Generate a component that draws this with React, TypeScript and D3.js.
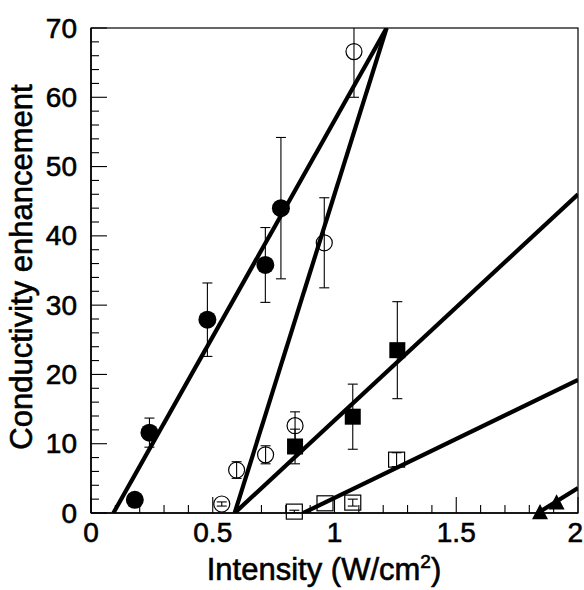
import React from "react";
import * as d3 from "d3";

// ---- data ----
const filledCircles = [
  { x: 0.18, y: 1.9, e: 0 },
  { x: 0.24, y: 11.6, e: 2.1 },
  { x: 0.478, y: 27.9, e: 5.3 },
  { x: 0.716, y: 35.8, e: 5.4 },
  { x: 0.78, y: 44.0, e: 10.2 },
];
const openCircles = [
  { x: 0.537, y: 1.3, e: 0.3 },
  { x: 0.598, y: 6.2, e: 1.2 },
  { x: 0.717, y: 8.4, e: 1.3 },
  { x: 0.838, y: 12.6, e: 2.0 },
  { x: 0.958, y: 39.0, e: 6.5 },
  { x: 1.08, y: 66.6, e: 6.6 },
];
const filledSquares = [
  { x: 0.838, y: 9.6, e: 2.5 },
  { x: 1.075, y: 13.9, e: 4.7 },
  { x: 1.258, y: 23.5, e: 7.0 },
];
const openSquares = [
  { x: 0.835, y: 0.2, e: 0.2 },
  { x: 0.961, y: 1.4, e: 0 },
  { x: 1.075, y: 1.5, e: 0.5 },
  { x: 1.255, y: 7.7, e: 1.0 },
];
const triangles = [
  { x: 1.844, y: 0.2 },
  { x: 1.912, y: 1.6 },
];
// fitted lines: [x0, y0, x1, y1]
const fitLines = [
  [0.092, 0, 1.214, 70],
  [0.59, 0, 1.214, 70],
  [0.59, 0, 2.0, 46.0],
  [0.872, 0, 2.0, 19.2],
  [1.835, 0, 2.0, 3.6],
];
const xTicks = [0, 0.5, 1, 1.5, 2];
const xTickLabels = ["0", "0.5", "1", "1.5", "2"];
const yTicks = [0, 10, 20, 30, 40, 50, 60, 70];
const xMinor = d3.range(0, 2.0001, 0.1);
const yMinor = d3.range(0, 70.0001, 2);

const W = 584;
const H = 590;
const L = 91, R = 578, T = 28, B = 513;
const FONT = "'Liberation Sans', Arial, Helvetica, sans-serif";

export default function App() {
  const x = d3.scaleLinear().domain([0, 2]).range([L, R]);
  const y = d3.scaleLinear().domain([0, 70]).range([B, T]);
  const line = d3.line<[number, number]>().x((d) => x(d[0])).y((d) => y(d[1]));

  const errBar = (d: { x: number; y: number; e: number }, key: string) => {
    if (!d.e) return null;
    const cx = x(d.x);
    const y0 = Math.max(y(d.y + d.e), T);
    const y1 = Math.min(y(d.y - d.e), B);
    const cw = 5;
    return (
      <g key={key} stroke="#000" strokeWidth={1.1}>
        <line x1={cx} x2={cx} y1={y0} y2={y1} />
        {y(d.y + d.e) >= T && <line x1={cx - cw} x2={cx + cw} y1={y0} y2={y0} />}
        <line x1={cx - cw} x2={cx + cw} y1={y1} y2={y1} />
      </g>
    );
  };

  const tri = (cx: number, cy: number, s: number) => {
    const h = s * 0.95;
    return `M${cx},${cy - h / 2}L${cx + s / 2},${cy + h / 2}L${cx - s / 2},${cy + h / 2}Z`;
  };

  const textStyle = { stroke: "#000", strokeWidth: 0.6 };

  return (
    <svg
      width={W}
      height={H}
      style={{ position: "absolute", left: 0, top: 0, background: "#fff" }}
      fontFamily={FONT}
    >
      <defs>
        <clipPath id="plot">
          <rect x={L} y={T} width={R - L} height={B - T} />
        </clipPath>
      </defs>
      <rect width={W} height={H} fill="#fff" />

      {/* frame */}
      <rect x={L} y={T} width={R - L} height={B - T} fill="none" stroke="#000" strokeWidth={1.2} />
      <line x1={L} x2={L} y1={T} y2={B} stroke="#000" strokeWidth={1.6} />
      <line x1={L} x2={R} y1={B} y2={B} stroke="#000" strokeWidth={1.6} />

      {/* ticks */}
      {yMinor.map((v, i) => (
        <line key={"ym" + i} x1={L} x2={L + (Math.round(v) % 10 === 0 ? 16 : 8)} y1={y(v)} y2={y(v)} stroke="#000" strokeWidth={1.1} />
      ))}
      {xMinor.map((v, i) => (
        <line key={"xm" + i} x1={x(v)} x2={x(v)} y1={B} y2={B - (i % 5 === 0 ? 16 : 8)} stroke="#000" strokeWidth={1.1} />
      ))}

      {/* tick labels */}
      {yTicks.map((v) => (
        <text key={"yl" + v} x={77} y={y(v)} dy="0.34em" textAnchor="end" fontSize={28} style={textStyle}>
          {v}
        </text>
      ))}
      {xTicks.map((v, i) => (
        <text
          key={"xl" + v}
          x={i === xTicks.length - 1 ? 583 : x(v)}
          y={542}
          textAnchor={i === xTicks.length - 1 ? "end" : "middle"}
          fontSize={28}
          style={textStyle}
        >
          {xTickLabels[i]}
        </text>
      ))}

      {/* axis titles */}
      <text x={324} y={580} textAnchor="middle" fontSize={31} style={textStyle}>
        Intensity (W/cm
        <tspan dy={-12} fontSize={19}>2</tspan>
        <tspan dy={12}>)</tspan>
      </text>
      <text transform={`translate(32,${267}) rotate(-90)`} textAnchor="middle" fontSize={31} style={textStyle}>
        Conductivity enhancement
      </text>

      <g clipPath="url(#plot)">
        {/* error bars */}
        {filledCircles.map((d, i) => errBar(d, "efc" + i))}
        {openCircles.map((d, i) => errBar(d, "eoc" + i))}
        {filledSquares.map((d, i) => errBar(d, "efs" + i))}
        {openSquares.map((d, i) => errBar(d, "eos" + i))}

        {/* fit lines */}
        {fitLines.map((l, i) => (
          <path
            key={"fl" + i}
            d={line([[l[0], l[1]], [l[2], l[3]]]) || ""}
            stroke="#000"
            strokeWidth={4.2}
            fill="none"
          />
        ))}
      </g>

      {/* markers (not clipped) */}
      {filledCircles.map((d, i) => (
        <circle key={"fc" + i} cx={x(d.x)} cy={y(d.y)} r={9} fill="#000" />
      ))}
      {openCircles.map((d, i) => (
        <circle key={"oc" + i} cx={x(d.x)} cy={y(d.y)} r={8} fill="none" stroke="#000" strokeWidth={1.2} />
      ))}
      {filledSquares.map((d, i) => (
        <rect key={"fs" + i} x={x(d.x) - 8} y={y(d.y) - 8} width={16} height={16} fill="#000" />
      ))}
      {openSquares.map((d, i) => (
        <rect key={"os" + i} x={x(d.x) - 8} y={y(d.y) - 7.5} width={16} height={15} fill="none" stroke="#000" strokeWidth={1.2} />
      ))}
      {triangles.map((d, i) => (
        <path key={"tr" + i} d={tri(x(d.x), y(d.y), 16)} fill="#000" />
      ))}
    </svg>
  );
}
